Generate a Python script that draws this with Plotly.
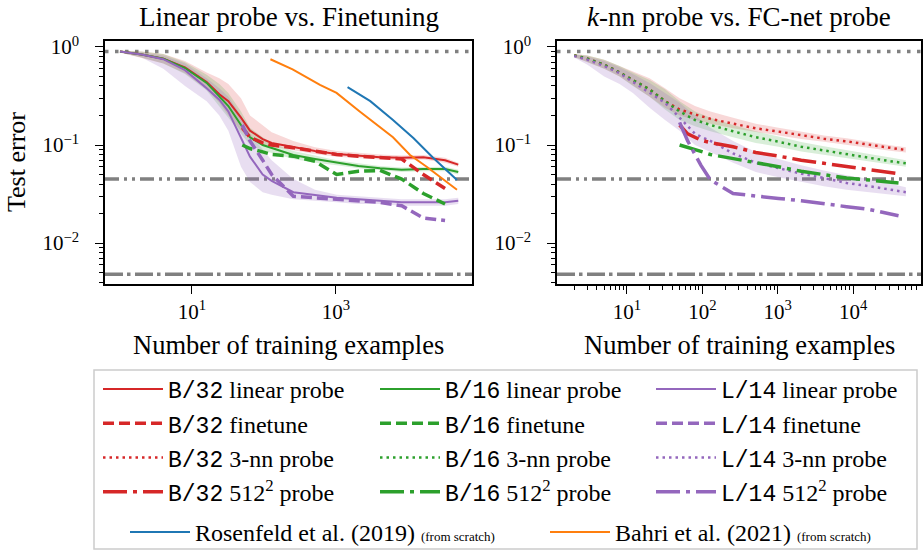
import plotly.graph_objects as go

W, H = 923, 551

# ---------------- Left panel data ----------------
n_lin = [1, 2, 4, 8, 16, 24, 32, 48, 64, 96, 128, 256, 512, 1024, 2048, 4096, 8192, 16384, 32768, 50000]
b32_lin = [0.9, 0.84, 0.76, 0.62, 0.44, 0.33, 0.28, 0.19, 0.14, 0.115, 0.105, 0.096, 0.087, 0.081, 0.078, 0.075, 0.074, 0.075, 0.07, 0.063]
b32_lin_hi = [0.92, 0.9, 0.85, 0.72, 0.55, 0.48, 0.42, 0.3, 0.2, 0.16, 0.135, 0.11, 0.095, 0.087, 0.083, 0.08, 0.078, 0.079, 0.074, 0.066]
b32_lin_lo = [0.88, 0.78, 0.68, 0.54, 0.37, 0.27, 0.2, 0.14, 0.115, 0.1, 0.095, 0.088, 0.081, 0.076, 0.073, 0.071, 0.07, 0.071, 0.066, 0.06]
b16_lin = [0.9, 0.84, 0.76, 0.61, 0.43, 0.31, 0.25, 0.16, 0.12, 0.1, 0.093, 0.079, 0.072, 0.066, 0.061, 0.058, 0.056, 0.057, 0.057, 0.053]
b16_lin_hi = [0.92, 0.9, 0.85, 0.7, 0.52, 0.42, 0.34, 0.22, 0.15, 0.12, 0.105, 0.087, 0.078, 0.07, 0.065, 0.061, 0.059, 0.06, 0.06, 0.056]
b16_lin_lo = [0.88, 0.78, 0.68, 0.53, 0.36, 0.25, 0.19, 0.13, 0.1, 0.088, 0.083, 0.072, 0.066, 0.062, 0.058, 0.055, 0.053, 0.054, 0.054, 0.05]
l14_lin = [0.9, 0.84, 0.75, 0.58, 0.38, 0.29, 0.22, 0.12, 0.076, 0.05, 0.043, 0.033, 0.031, 0.029, 0.028, 0.027, 0.026, 0.026, 0.026, 0.027]
l14_lin_hi = [0.91, 0.88, 0.82, 0.68, 0.48, 0.38, 0.31, 0.2, 0.13, 0.09, 0.07, 0.045, 0.035, 0.031, 0.03, 0.029, 0.028, 0.028, 0.028, 0.029]
l14_lin_lo = [0.88, 0.78, 0.6, 0.4, 0.28, 0.2, 0.14, 0.06, 0.042, 0.033, 0.031, 0.028, 0.027, 0.026, 0.025, 0.025, 0.024, 0.024, 0.024, 0.025]

n_ft = [50, 64, 96, 128, 256, 512, 1024, 2048, 4096, 8192, 16384, 32768]
b32_ft = [0.15, 0.12, 0.105, 0.1, 0.094, 0.086, 0.08, 0.077, 0.075, 0.072, 0.05, 0.036]
b16_ft = [0.1, 0.092, 0.085, 0.08, 0.077, 0.068, 0.05, 0.054, 0.055, 0.045, 0.032, 0.025]
l14_ft = [0.16, 0.11, 0.07, 0.05, 0.03, 0.029, 0.028, 0.027, 0.026, 0.024, 0.018, 0.017]

n_rosenfeld = [1450, 3000, 6200, 12000, 22000, 48000]
rosenfeld = [0.39, 0.28, 0.18, 0.117, 0.075, 0.044]
n_bahri = [123, 250, 600, 1020, 2140, 6200, 10700, 18200, 48000]
bahri = [0.75, 0.59, 0.41, 0.34, 0.22, 0.12, 0.079, 0.06, 0.035]

# ---------------- Right panel data ----------------
n_knn = [2, 3, 5, 8, 12, 20, 32, 50, 80, 128, 256, 512, 1024, 2048, 4096, 8192, 16384, 32768, 50000]
b32_knn = [0.82, 0.76, 0.66, 0.55, 0.46, 0.37, 0.28, 0.23, 0.205, 0.185, 0.165, 0.148, 0.137, 0.125, 0.116, 0.109, 0.1, 0.093, 0.089]
b32_knn_hi = [0.85, 0.82, 0.74, 0.64, 0.56, 0.48, 0.38, 0.3, 0.25, 0.22, 0.19, 0.165, 0.15, 0.136, 0.125, 0.117, 0.107, 0.099, 0.095]
b32_knn_lo = [0.79, 0.7, 0.6, 0.5, 0.4, 0.31, 0.24, 0.2, 0.18, 0.165, 0.148, 0.135, 0.125, 0.115, 0.108, 0.101, 0.094, 0.087, 0.084]
b16_knn = [0.82, 0.76, 0.66, 0.55, 0.46, 0.37, 0.28, 0.22, 0.18, 0.16, 0.138, 0.12, 0.108, 0.096, 0.088, 0.08, 0.074, 0.068, 0.065]
b16_knn_hi = [0.85, 0.82, 0.74, 0.64, 0.55, 0.46, 0.37, 0.28, 0.22, 0.19, 0.16, 0.138, 0.122, 0.107, 0.097, 0.088, 0.081, 0.074, 0.07]
b16_knn_lo = [0.79, 0.7, 0.6, 0.5, 0.4, 0.31, 0.23, 0.18, 0.155, 0.138, 0.12, 0.105, 0.096, 0.086, 0.079, 0.073, 0.068, 0.063, 0.06]
l14_knn = [0.81, 0.74, 0.64, 0.54, 0.44, 0.34, 0.27, 0.19, 0.13, 0.11, 0.082, 0.066, 0.058, 0.051, 0.046, 0.041, 0.038, 0.035, 0.033]
l14_knn_hi = [0.84, 0.8, 0.72, 0.62, 0.53, 0.43, 0.34, 0.27, 0.2, 0.15, 0.11, 0.085, 0.072, 0.062, 0.055, 0.049, 0.045, 0.04, 0.037]
l14_knn_lo = [0.78, 0.66, 0.5, 0.42, 0.34, 0.24, 0.18, 0.14, 0.1, 0.085, 0.066, 0.053, 0.047, 0.042, 0.038, 0.035, 0.033, 0.031, 0.03]

n_fc = [50, 64, 96, 128, 256, 512, 1024, 2048, 4096, 8192, 16384, 40000]
b32_fc = [0.16, 0.13, 0.112, 0.106, 0.096, 0.084, 0.077, 0.07, 0.065, 0.06, 0.056, 0.051]
b16_fc = [0.1, 0.095, 0.086, 0.08, 0.073, 0.066, 0.06, 0.054, 0.05, 0.046, 0.044, 0.041]
l14_fc = [0.17, 0.11, 0.062, 0.044, 0.032, 0.03, 0.0285, 0.027, 0.025, 0.0235, 0.022, 0.019]

# reference levels (chance, and two baselines)
ref_levels = [0.9, 0.045, 0.0048]
ref_dash = ["3.5px,6.5px", "14px,5px,3px,5px,3px,5px", "18px,4px,3.5px,4.5px"]

# tick labels
x_ticks_left = [10, 1000]
x_ticktext_left = ["10<sup>1</sup>", "10<sup>3</sup>"]
x_ticks_right = [10, 100, 1000, 10000]
x_ticktext_right = ["10<sup>1</sup>", "10<sup>2</sup>", "10<sup>3</sup>", "10<sup>4</sup>"]
y_ticks = [1, 0.1, 0.01]
y_ticktext = ["10<sup>0</sup>", "10<sup>\u22121</sup>", "10<sup>\u22122</sup>"]

RED, GREEN, PURPLE = "#d62728", "#2ca02c", "#9467bd"
BLUE, ORANGE = "#1f77b4", "#ff7f0e"
FILL = {RED: "rgba(214,39,40,0.18)", GREEN: "rgba(44,160,44,0.18)", PURPLE: "rgba(148,103,189,0.22)"}
SERIF = "Liberation Serif"
MONO = "Liberation Mono"


def mono(s):
    return f"<span style='font-family:{MONO};font-size:23px'>{s}</span>"


fig = go.Figure()


def band(x, lo, hi, color, xa, ya):
    fig.add_trace(go.Scatter(
        x=list(x) + list(x)[::-1], y=list(hi) + list(lo)[::-1],
        fill="toself", fillcolor=FILL[color], line=dict(width=0),
        mode="lines", showlegend=False, hoverinfo="skip", xaxis=xa, yaxis=ya))


# bands
for lo, hi, c in [(b32_lin_lo, b32_lin_hi, RED), (b16_lin_lo, b16_lin_hi, GREEN), (l14_lin_lo, l14_lin_hi, PURPLE)]:
    band(n_lin, lo, hi, c, "x", "y")
for lo, hi, c in [(b32_knn_lo, b32_knn_hi, RED), (b16_knn_lo, b16_knn_hi, GREEN), (l14_knn_lo, l14_knn_hi, PURPLE)]:
    band(n_knn, lo, hi, c, "x2", "y2")

models = [("B/32", RED, "legend"), ("B/16", GREEN, "legend2"), ("L/14", PURPLE, "legend3")]
lin = [b32_lin, b16_lin, l14_lin]
ft = [b32_ft, b16_ft, l14_ft]
knn = [b32_knn, b16_knn, l14_knn]
fc = [b32_fc, b16_fc, l14_fc]

styles = [
    ("linear probe", dict(width=2), lin, n_lin, "x", "y"),
    ("finetune", dict(width=3.5, dash="11px,5px"), ft, n_ft, "x", "y"),
    ("3-nn probe", dict(width=2.5, dash="2.5px,4px"), knn, n_knn, "x2", "y2"),
    ("512<sup>2</sup> probe", dict(width=3.5, dash="24px,6px,4px,6px"), fc, n_fc, "x2", "y2"),
]
rank = 0
for label, ls, data, xs, xa, ya in styles:
    for (name, c, lg), y in zip(models, data):
        rank += 1
        fig.add_trace(go.Scatter(x=xs, y=y, mode="lines", line=dict(color=c, **ls),
                                 name=f"{mono(name)} {label}", legend=lg, legendgroup=f"g{rank}",
                                 legendrank=rank, xaxis=xa, yaxis=ya))

small = "<span style='font-size:13px'>(from scratch)</span>"
fig.add_trace(go.Scatter(x=n_rosenfeld, y=rosenfeld, mode="lines", line=dict(color=BLUE, width=2),
                         name=f"Rosenfeld et al. (2019) {small}", legend="legend4",
                         xaxis="x", yaxis="y"))
fig.add_trace(go.Scatter(x=n_bahri, y=bahri, mode="lines", line=dict(color=ORANGE, width=2),
                         name=f"Bahri et al. (2021) {small}", legend="legend5",
                         xaxis="x", yaxis="y"))

# reference horizontal lines
shapes = []
for xr, yr in [("x domain", "y"), ("x2 domain", "y2")]:
    for lvl, dsh in zip(ref_levels, ref_dash):
        shapes.append(dict(type="line", xref=xr, yref=yr, x0=0, x1=1, y0=lvl, y1=lvl,
                           line=dict(color="#808080", width=3.5, dash=dsh), layer="below"))
# legend frame
shapes.append(dict(type="rect", xref="paper", yref="paper",
                   x0=94 / W, x1=917 / W, y0=1 - 549 / H, y1=1 - 370 / H,
                   line=dict(color="#cccccc", width=1.5), fillcolor="rgba(0,0,0,0)"))

ydom = [1 - 284 / H, 1 - 41 / H]
tickfont = dict(family=SERIF, size=21, color="black")
common_axis = dict(type="log", showline=True, mirror=True, linecolor="black", linewidth=1.5,
                   ticks="outside", ticklen=8, tickwidth=1.2, tickcolor="black",
                   showgrid=False, zeroline=False, tickfont=tickfont, automargin=False)


def minor_vals(lo_exp, hi_exp):
    return [m * 10 ** e for e in range(lo_exp, hi_exp) for m in range(2, 10)]


yaxis_common = dict(common_axis, range=[-2.418, 0.061], tickvals=y_ticks, ticktext=y_ticktext,
                    ticklabelstandoff=12,
                    minor=dict(tickvals=minor_vals(-3, 1), ticks="outside", ticklen=4.5, tickwidth=1,
                               tickcolor="black", showgrid=False))

leg_font = dict(family=SERIF, size=24, color="black")


def leg(x_px, y_px):
    return dict(orientation="v", x=x_px / W, y=1 - y_px / H, xanchor="left", yanchor="top",
                itemwidth=60, tracegroupgap=0, font=leg_font, bgcolor="rgba(0,0,0,0)",
                borderwidth=0, traceorder="grouped")


def note(text, x_px, y_px, size, angle=0):
    return dict(text=text, x=x_px / W, y=1 - y_px / H, xref="paper", yref="paper",
                xanchor="center", yanchor="middle", textangle=angle,
                showarrow=False, font=dict(family=SERIF, size=size, color="black"))


fig.update_layout(
    width=W, height=H,
    margin=dict(l=0, r=0, t=0, b=0, autoexpand=False),
    paper_bgcolor="white", plot_bgcolor="white",
    font=dict(family=SERIF, color="black"),
    xaxis=dict(common_axis, domain=[105 / W, 472 / W], range=[-0.208, 4.89],
               tickvals=x_ticks_left, ticktext=x_ticktext_left, anchor="y"),
    yaxis=dict(yaxis_common, domain=ydom, anchor="x"),
    xaxis2=dict(common_axis, domain=[557 / W, 921 / W], range=[0.073, 4.90],
                tickvals=x_ticks_right, ticktext=x_ticktext_right, anchor="y2",
                minor=dict(tickvals=minor_vals(0, 5), ticks="outside", ticklen=4.5, tickwidth=1,
                           tickcolor="black", showgrid=False)),
    yaxis2=dict(yaxis_common, domain=ydom, anchor="x2"),
    shapes=shapes,
    legend=leg(98, 367),
    legend2=leg(375, 367),
    legend3=leg(651, 367),
    legend4=leg(125, 510),
    legend5=leg(545, 510),
    annotations=[
        note("Linear probe vs. Finetuning", 289, 17, 27),
        note("<i>k</i>-nn probe vs. FC-net probe", 739, 17, 27),
        note("Number of training examples", 288.5, 345, 26.5),
        note("Number of training examples", 739, 345, 26.5),
        note("Test error", 16, 162, 26, -90),
    ],
)

fig.write_html("out.html", config={"displayModeBar": False},
               post_script="document.body.style.margin='0px';")
